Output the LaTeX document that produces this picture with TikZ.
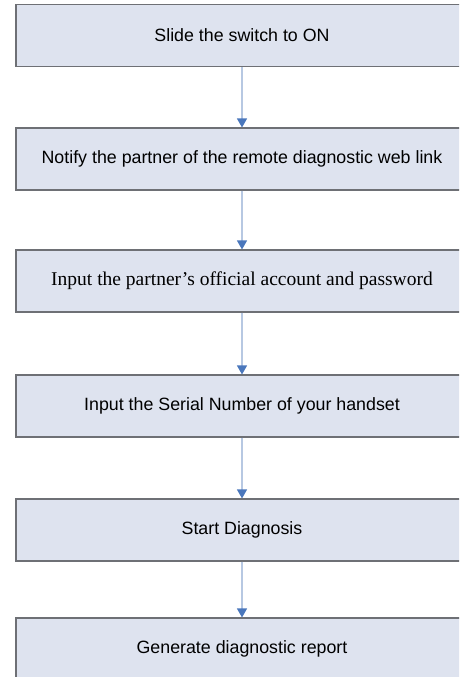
\documentclass[tikz,border=0pt]{standalone}
\usepackage{fontspec}
\setmainfont{Liberation Sans}
\newfontfamily\serifstep{Liberation Serif}
\usetikzlibrary{arrows.meta}
\definecolor{boxfill}{HTML}{DEE3EF}
\definecolor{boxline}{HTML}{6E7075}
\definecolor{linkline}{HTML}{B7C8E2}
\definecolor{tipblue}{HTML}{4A77BC}

\begin{document}
\begin{tikzpicture}[x=1pt, y=-1pt, every node/.style={rectangle, draw=boxline, fill=boxfill, line width=1.1pt, minimum width=452pt, minimum height=62pt, inner sep=0pt, font=\fontsize{17.8}{20}\selectfont}]
    \useasboundingbox (0,0) rectangle (459,677);
    \clip (0,0) rectangle (459,677);

    % The 6 steps (boxes run past the right and bottom edge)
    \node (s1) at (242, 35.5) {Slide the switch to ON};
    \node (s2) at (242, 159) {Notify the partner of the remote diagnostic web link};
    \node[font=\serifstep\fontsize{19.5}{22}\selectfont] (s3) at (242, 281) {Input the partner’s official account and password};
    \node (s4) at (242, 406) {Input the Serial Number of your handset};
    \node (s5) at (242, 530) {Start Diagnosis};
    \node (s6) at (242, 649) {Generate diagnostic report};

    % Links between the steps
    \begin{scope}[draw=linkline, line width=1.2pt, -{Triangle[length=9pt, width=10pt, color=tipblue]}]
        \draw (s1) -- (s2);
        \draw (s2) -- (s3);
        \draw (s3) -- (s4);
        \draw (s4) -- (s5);
        \draw (s5) -- (s6);
    \end{scope}
\end{tikzpicture}
\end{document}
